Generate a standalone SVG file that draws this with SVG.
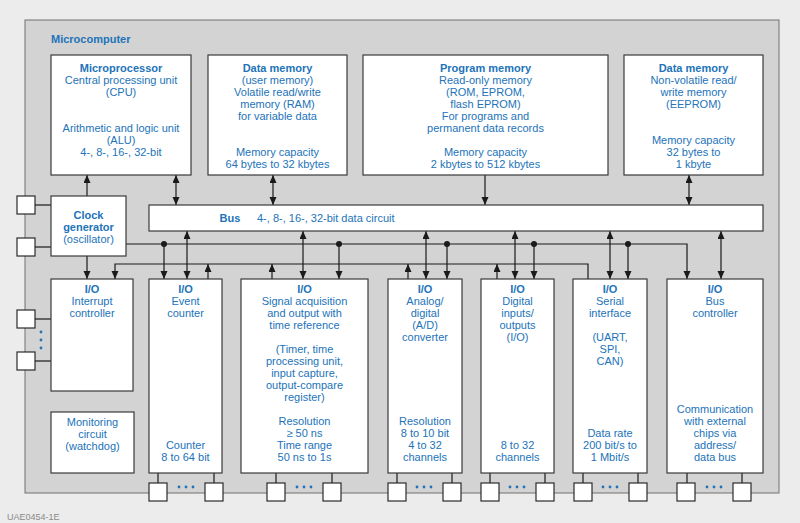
<svg xmlns="http://www.w3.org/2000/svg" width="800" height="523" viewBox="0 0 800 523">
<defs>
<style>
.t{font-family:"Liberation Sans",Arial,sans-serif;font-size:11px;fill:#2273b9;text-anchor:middle}
.b{font-weight:bold}
.box{fill:#fff;stroke:#3a3a3a;stroke-width:1.2}
.pin{fill:#fff;stroke:#2a2a2a;stroke-width:1.2}
.w{stroke:#1a1a1a;stroke-width:1.2;fill:none}
.a{stroke:#1a1a1a;stroke-width:1.2;fill:none;marker-end:url(#ah)}
.d{stroke:#1a1a1a;stroke-width:1.2;fill:none;marker-end:url(#ah);marker-start:url(#ah)}
.dot{fill:#1a1a1a}
.bd{fill:#2273b9}
</style>
<marker id="ah" markerUnits="userSpaceOnUse" markerWidth="9" markerHeight="8" refX="8" refY="3.5" orient="auto-start-reverse">
<path d="M0,0 L8,3.5 L0,7 z" fill="#1a1a1a"/>
</marker>
</defs>
<rect x="0" y="0" width="800" height="523" fill="#ececec"/>
<rect id="frame" x="25" y="20" width="754" height="473" fill="#d3d3d3" stroke="#707070" stroke-width="1"/>
<text class="t b" x="51" y="43" style="text-anchor:start">Microcomputer</text>

<g id="connectors">
<line class="a" x1="87" y1="196" x2="87" y2="175"/>
<line class="d" x1="176" y1="175" x2="176" y2="205"/>
<line class="d" x1="273" y1="175" x2="273" y2="205"/>
<line class="a" x1="485" y1="175" x2="485" y2="205"/>
<line class="d" x1="689" y1="175" x2="689" y2="205"/>
<line class="w" x1="35" y1="205" x2="51" y2="205"/>
<line class="w" x1="35" y1="247" x2="51" y2="247"/>
<line class="w" x1="35" y1="319" x2="51" y2="319"/>
<line class="w" x1="35" y1="361" x2="51" y2="361"/>
<line class="a" x1="87" y1="256" x2="87" y2="279"/>
<polyline class="a" points="126,244 687,244 687,279"/>
<line class="a" x1="164" y1="244" x2="164" y2="279"/>
<line class="a" x1="339" y1="244" x2="339" y2="279"/>
<line class="a" x1="447" y1="244" x2="447" y2="279"/>
<line class="a" x1="534" y1="244" x2="534" y2="279"/>
<line class="a" x1="628" y1="244" x2="628" y2="279"/>
<circle class="dot" cx="164" cy="244" r="3"/>
<circle class="dot" cx="339" cy="244" r="3"/>
<circle class="dot" cx="447" cy="244" r="3"/>
<circle class="dot" cx="534" cy="244" r="3"/>
<circle class="dot" cx="628" cy="244" r="3"/>
<polyline class="a" points="588,279 588,264 115,264 115,279"/>
<line class="a" x1="208" y1="279" x2="208" y2="264"/>
<line class="a" x1="272" y1="279" x2="272" y2="264"/>
<line class="a" x1="408" y1="279" x2="408" y2="264"/>
<line class="a" x1="497" y1="279" x2="497" y2="264"/>
<line class="d" x1="187" y1="231" x2="187" y2="279"/>
<line class="d" x1="303" y1="231" x2="303" y2="279"/>
<line class="d" x1="426" y1="231" x2="426" y2="279"/>
<line class="d" x1="515" y1="231" x2="515" y2="279"/>
<line class="d" x1="610" y1="231" x2="610" y2="279"/>
<line class="d" x1="721" y1="231" x2="721" y2="279"/>
<line class="w" x1="158" y1="473" x2="158" y2="483"/>
<line class="w" x1="214" y1="473" x2="214" y2="483"/>
<line class="w" x1="276" y1="473" x2="276" y2="483"/>
<line class="w" x1="332" y1="473" x2="332" y2="483"/>
<line class="w" x1="397" y1="473" x2="397" y2="483"/>
<line class="w" x1="452" y1="473" x2="452" y2="483"/>
<line class="w" x1="490" y1="473" x2="490" y2="483"/>
<line class="w" x1="545" y1="473" x2="545" y2="483"/>
<line class="w" x1="583" y1="473" x2="583" y2="483"/>
<line class="w" x1="638" y1="473" x2="638" y2="483"/>
<line class="w" x1="687" y1="473" x2="687" y2="483"/>
<line class="w" x1="742" y1="473" x2="742" y2="483"/>
</g>

<g id="pins">
<rect class="pin" x="17" y="196" width="18" height="18"/>
<rect class="pin" x="17" y="238" width="18" height="18"/>
<rect class="pin" x="17" y="310" width="18" height="18"/>
<rect class="pin" x="17" y="352" width="18" height="18"/>
<circle class="bd" cx="41" cy="332" r="1.4"/><circle class="bd" cx="41" cy="340" r="1.4"/><circle class="bd" cx="41" cy="348" r="1.4"/>
<rect class="pin" x="149" y="483" width="18" height="18"/><rect class="pin" x="205" y="483" width="18" height="18"/>
<circle class="bd" cx="179" cy="487" r="1.4"/><circle class="bd" cx="186" cy="487" r="1.4"/><circle class="bd" cx="193" cy="487" r="1.4"/>
<rect class="pin" x="267" y="483" width="18" height="18"/><rect class="pin" x="323" y="483" width="18" height="18"/>
<circle class="bd" cx="297" cy="487" r="1.4"/><circle class="bd" cx="304" cy="487" r="1.4"/><circle class="bd" cx="311" cy="487" r="1.4"/>
<rect class="pin" x="388" y="483" width="18" height="18"/><rect class="pin" x="443" y="483" width="18" height="18"/>
<circle class="bd" cx="417" cy="487" r="1.4"/><circle class="bd" cx="424" cy="487" r="1.4"/><circle class="bd" cx="431" cy="487" r="1.4"/>
<rect class="pin" x="481" y="483" width="18" height="18"/><rect class="pin" x="536" y="483" width="18" height="18"/>
<circle class="bd" cx="510" cy="487" r="1.4"/><circle class="bd" cx="517" cy="487" r="1.4"/><circle class="bd" cx="524" cy="487" r="1.4"/>
<rect class="pin" x="574" y="483" width="18" height="18"/><rect class="pin" x="629" y="483" width="18" height="18"/>
<circle class="bd" cx="603" cy="487" r="1.4"/><circle class="bd" cx="610" cy="487" r="1.4"/><circle class="bd" cx="617" cy="487" r="1.4"/>
<rect class="pin" x="677" y="483" width="18" height="18"/><rect class="pin" x="733" y="483" width="18" height="18"/>
<circle class="bd" cx="707" cy="487" r="1.4"/><circle class="bd" cx="714" cy="487" r="1.4"/><circle class="bd" cx="721" cy="487" r="1.4"/>
</g>

<g id="cpu">
<rect class="box" x="51" y="55" width="140" height="120"/>
<text class="t"><tspan class="b" x="121" y="72">Microprocessor</tspan><tspan x="121" y="84">Central processing unit</tspan><tspan x="121" y="96">(CPU)</tspan><tspan x="121" y="132">Arithmetic and logic unit</tspan><tspan x="121" y="144">(ALU)</tspan><tspan x="121" y="156">4-, 8-, 16-, 32-bit</tspan></text>
</g>
<g id="ram">
<rect class="box" x="208" y="55" width="139" height="120"/>
<text class="t"><tspan class="b" x="277.5" y="72">Data memory</tspan><tspan x="277.5" y="84">(user memory)</tspan><tspan x="277.5" y="96">Volatile read/write</tspan><tspan x="277.5" y="108">memory (RAM)</tspan><tspan x="277.5" y="120">for variable data</tspan><tspan x="277.5" y="156">Memory capacity</tspan><tspan x="277.5" y="168">64 bytes to 32 kbytes</tspan></text>
</g>
<g id="rom">
<rect class="box" x="363" y="55" width="245" height="120"/>
<text class="t"><tspan class="b" x="485.5" y="72">Program memory</tspan><tspan x="485.5" y="84">Read-only memory</tspan><tspan x="485.5" y="96">(ROM, EPROM,</tspan><tspan x="485.5" y="108">flash EPROM)</tspan><tspan x="485.5" y="120">For programs and</tspan><tspan x="485.5" y="132">permanent data records</tspan><tspan x="485.5" y="156">Memory capacity</tspan><tspan x="485.5" y="168">2 kbytes to 512 kbytes</tspan></text>
</g>
<g id="eeprom">
<rect class="box" x="624" y="55" width="139" height="120"/>
<text class="t"><tspan class="b" x="693.5" y="72">Data memory</tspan><tspan x="693.5" y="84">Non-volatile read/</tspan><tspan x="693.5" y="96">write memory</tspan><tspan x="693.5" y="108">(EEPROM)</tspan><tspan x="693.5" y="144">Memory capacity</tspan><tspan x="693.5" y="156">32 bytes to</tspan><tspan x="693.5" y="168">1 kbyte</tspan></text>
</g>
<g id="clock">
<rect class="box" x="51" y="196" width="75" height="60"/>
<text class="t"><tspan class="b" x="88.5" y="219">Clock</tspan><tspan class="b" x="88.5" y="231">generator</tspan><tspan x="88.5" y="243">(oscillator)</tspan></text>
</g>
<g id="bus">
<rect class="box" x="149" y="205" width="614" height="26"/>
<text class="t b" x="230" y="222">Bus</text>
<text class="t" x="257" y="222" style="text-anchor:start">4-, 8-, 16-, 32-bit data circuit</text>
</g>
<g id="interrupt">
<rect class="box" x="51" y="279" width="82" height="112"/>
<text class="t"><tspan class="b" x="92" y="293">I/O</tspan><tspan x="92" y="305">Interrupt</tspan><tspan x="92" y="317">controller</tspan></text>
</g>
<g id="watchdog">
<rect class="box" x="51" y="412" width="83" height="61"/>
<text class="t"><tspan x="92.5" y="426">Monitoring</tspan><tspan x="92.5" y="438">circuit</tspan><tspan x="92.5" y="450">(watchdog)</tspan></text>
</g>
<g id="event">
<rect class="box" x="149" y="279" width="73" height="194"/>
<text class="t"><tspan class="b" x="185.5" y="293">I/O</tspan><tspan x="185.5" y="305">Event</tspan><tspan x="185.5" y="317">counter</tspan><tspan x="185.5" y="449">Counter</tspan><tspan x="185.5" y="461">8 to 64 bit</tspan></text>
</g>
<g id="signal">
<rect class="box" x="241" y="279" width="127" height="194"/>
<text class="t"><tspan class="b" x="304.5" y="293">I/O</tspan><tspan x="304.5" y="305">Signal acquisition</tspan><tspan x="304.5" y="317">and output with</tspan><tspan x="304.5" y="329">time reference</tspan><tspan x="304.5" y="353">(Timer, time</tspan><tspan x="304.5" y="365">processing unit,</tspan><tspan x="304.5" y="377">input capture,</tspan><tspan x="304.5" y="389">output-compare</tspan><tspan x="304.5" y="401">register)</tspan><tspan x="304.5" y="425">Resolution</tspan><tspan x="304.5" y="437">≥ 50 ns</tspan><tspan x="304.5" y="449">Time range</tspan><tspan x="304.5" y="461">50 ns to 1s</tspan></text>
</g>
<g id="adc">
<rect class="box" x="388" y="279" width="74" height="194"/>
<text class="t"><tspan class="b" x="425" y="293">I/O</tspan><tspan x="425" y="305">Analog/</tspan><tspan x="425" y="317">digital</tspan><tspan x="425" y="329">(A/D)</tspan><tspan x="425" y="341">converter</tspan><tspan x="425" y="425">Resolution</tspan><tspan x="425" y="437">8 to 10 bit</tspan><tspan x="425" y="449">4 to 32</tspan><tspan x="425" y="461">channels</tspan></text>
</g>
<g id="digital">
<rect class="box" x="481" y="279" width="73" height="194"/>
<text class="t"><tspan class="b" x="517.5" y="293">I/O</tspan><tspan x="517.5" y="305">Digital</tspan><tspan x="517.5" y="317">inputs/</tspan><tspan x="517.5" y="329">outputs</tspan><tspan x="517.5" y="341">(I/O)</tspan><tspan x="517.5" y="449">8 to 32</tspan><tspan x="517.5" y="461">channels</tspan></text>
</g>
<g id="serial">
<rect class="box" x="573" y="279" width="74" height="194"/>
<text class="t"><tspan class="b" x="610" y="293">I/O</tspan><tspan x="610" y="305">Serial</tspan><tspan x="610" y="317">interface</tspan><tspan x="610" y="341">(UART,</tspan><tspan x="610" y="353">SPI,</tspan><tspan x="610" y="365">CAN)</tspan><tspan x="610" y="437">Data rate</tspan><tspan x="610" y="449">200 bit/s to</tspan><tspan x="610" y="461">1 Mbit/s</tspan></text>
</g>
<g id="busctrl">
<rect class="box" x="667" y="279" width="96" height="194"/>
<text class="t"><tspan class="b" x="715" y="293">I/O</tspan><tspan x="715" y="305">Bus</tspan><tspan x="715" y="317">controller</tspan><tspan x="715" y="413">Communication</tspan><tspan x="715" y="425">with external</tspan><tspan x="715" y="437">chips via</tspan><tspan x="715" y="449">address/</tspan><tspan x="715" y="461">data bus</tspan></text>
</g>
<text x="7" y="520" style="font-family:'Liberation Sans',Arial,sans-serif;font-size:9px;fill:#8a8a8a">UAE0454-1E</text>
</svg>
